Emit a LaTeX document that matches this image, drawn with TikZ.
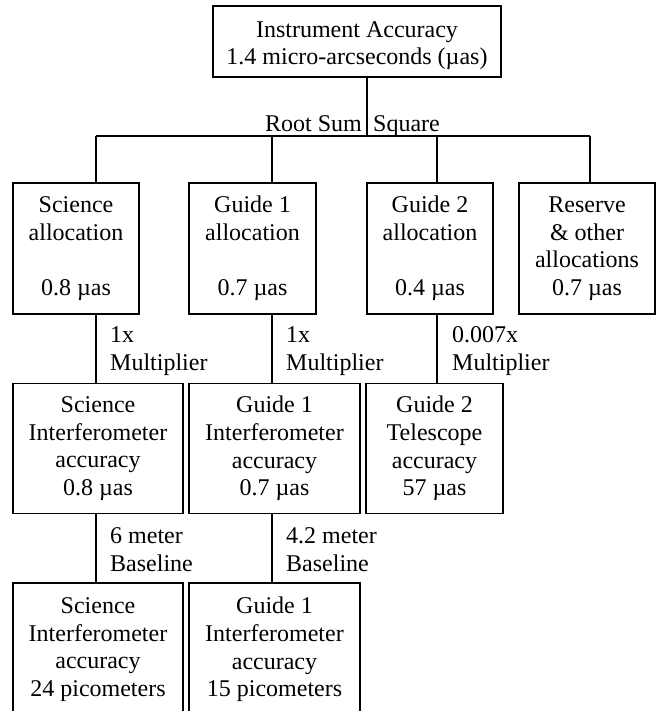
\documentclass[tikz,border=0pt]{standalone}
\usepackage{fontspec}
\setmainfont{Liberation Serif}
\begin{document}
\begin{tikzpicture}[x=1pt,y=-1pt,
  every node/.style={font=\fontsize{24}{27.6}\selectfont},
  box/.style={draw=black,line width=1.8pt,inner sep=0pt,align=center,fill=white},
  lbl/.style={anchor=base west,inner sep=0pt},
  conn/.style={draw=black,line width=1.8pt}]
\clip (0,0) rectangle (657,711);
\fill[white] (0,0) rectangle (657,711);
% column coordinates on the bus
\coordinate (rsq) at (367,136);
\coordinate (c1) at (96,136);
\coordinate (c2) at (272,136);
\coordinate (c3) at (437,136);
\coordinate (c4) at (590,136);
% boxes
\node[box,minimum width=288pt,minimum height=71pt] (t) at (357,41.5) {};
\node[inner sep=0pt,align=center] (tt) at (357,45.5) {Instrument Accuracy\\1.4 micro-arcseconds (µas)};
\node[box,minimum width=126pt,minimum height=131pt] (sa) at (76,248.5) {Science\\allocation\\[27.6pt]0.8 µas};
\node[box,minimum width=127pt,minimum height=131pt] (ga1) at (252.5,248.5) {Guide 1\\allocation\\[27.6pt]0.7 µas};
\node[box,minimum width=126pt,minimum height=131pt] (ga2) at (430,248.5) {Guide 2\\allocation\\[27.6pt]0.4 µas};
\node[box,minimum width=136pt,minimum height=131pt] (rs) at (587,248.5) {Reserve\\\& other\\allocations\\0.7 µas};
\node[box,minimum width=170pt,minimum height=130pt] (si) at (98,448.5) {Science\\Interferometer\\accuracy\\0.8 µas};
\node[box,minimum width=171pt,minimum height=130pt] (gi) at (274.5,448.5) {Guide 1\\Interferometer\\accuracy\\0.7 µas};
\node[box,minimum width=137pt,minimum height=130pt] (gt) at (434.5,448.5) {Guide 2\\Telescope\\accuracy\\57 µas};
\node[box,minimum width=170pt,minimum height=133pt] (sp) at (98,649.5) {Science\\Interferometer\\accuracy\\24 picometers};
\node[box,minimum width=171pt,minimum height=133pt] (gp) at (274.5,649.5) {Guide 1\\Interferometer\\accuracy\\15 picometers};
% connectors
\draw[conn] (t.south -| rsq) -- (rsq);
\draw[conn] (c1) -- (c4);
\draw[conn] (c1) -- (c1 |- sa.north);
\draw[conn] (c2) -- (c2 |- ga1.north);
\draw[conn] (c3) -- (c3 |- ga2.north);
\draw[conn] (c4) -- (c4 |- rs.north);
\draw[conn] (sa.south -| c1) -- (si.north -| c1);
\draw[conn] (ga1.south -| c2) -- (gi.north -| c2);
\draw[conn] (ga2.south -| c3) -- (gt.north -| c3);
\draw[conn] (si.south -| c1) -- (sp.north -| c1);
\draw[conn] (gi.south -| c2) -- (gp.north -| c2);
% labels
\node[anchor=base east,inner sep=0pt] (lroot) at (362,132) {Root Sum};
\node[lbl] (lsq) at (373,132) {Square};
\node[lbl] (m1a) at (110,342) {1x};
\node[lbl] (m1b) at (110,370) {Multiplier};
\node[lbl] (m2a) at (286,342) {1x};
\node[lbl] (m2b) at (286,370) {Multiplier};
\node[lbl] (m3a) at (452,342) {0.007x};
\node[lbl] (m3b) at (452,370) {Multiplier};
\node[lbl] (b1a) at (110,543) {6 meter};
\node[lbl] (b1b) at (110,571) {Baseline};
\node[lbl] (b2a) at (286,543) {4.2 meter};
\node[lbl] (b2b) at (286,571) {Baseline};
\end{tikzpicture}
\end{document}
